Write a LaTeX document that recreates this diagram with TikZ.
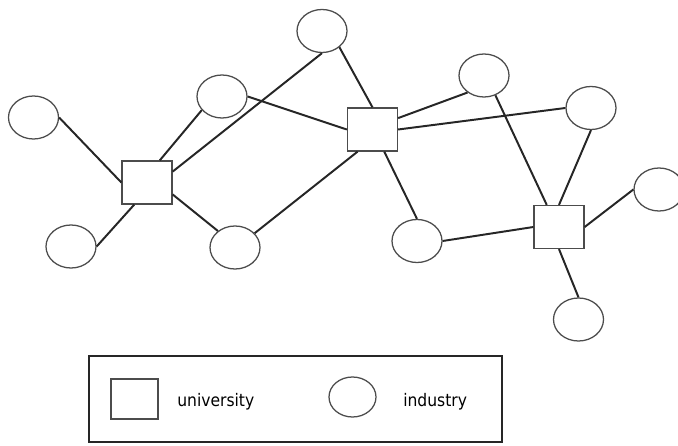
\documentclass[tikz,border=0pt]{standalone}
\usepackage{fontspec}
\setmainfont{DejaVu Sans Condensed}
\usepackage{tikz}
\usetikzlibrary{shapes.geometric}

\tikzset{
  univ/.style={draw=black!70, line width=0.9pt, rectangle, minimum width=1.25cm, minimum height=1.075cm, inner sep=0pt},
  ind/.style={draw=black!70, line width=0.9pt, ellipse, minimum width=1.25cm, minimum height=1.075cm, inner sep=0pt},
  link/.style={draw=black!85, line width=1.4pt},
}

\begin{document}
\begin{tikzpicture}[x=0.025cm, y=-0.025cm, font=\fontsize{12.3}{14}\selectfont]
\useasboundingbox (0,0) rectangle (678,446);

% universities
\node[univ] (u1) at (147,182.5) {};
\node[univ] (u2) at (372.5,129.5) {};
\node[univ] (u3) at (559,227) {};

% industries
\node[ind] (i1) at (33.5,117.5) {};
\node[ind] (i2) at (222,96.5) {};
\node[ind] (i3) at (322,31) {};
\node[ind] (i4) at (71,246.5) {};
\node[ind] (i5) at (235,247.5) {};
\node[ind] (i6) at (484,75.5) {};
\node[ind] (i7) at (591,108) {};
\node[ind] (i8) at (417,241) {};
\node[ind] (i9) at (659,189.5) {};
\node[ind] (i10) at (578.5,319.5) {};

\draw[link] (i1.east) -- (u1.west);
\draw[link] (i4.east) -- (u1.240);
\draw[link] (u1.60) -- (i2.214);
\draw[link] (u1.23) -- (i3.south);
\draw[link] (u1.-25) -- (i5.136);
\draw[link] (i2.east) -- (u2.west);
\draw[link] (i3.-43) -- (u2.north);
\draw[link] (i5.36) -- (u2.236);
\draw[link] (u2.24) -- (i6.226);
\draw[link] (u2.east) -- (i7.west);
\draw[link] (u2.-62) -- (i8.north);
\draw[link] (i8.east) -- (u3.west);
\draw[link] (i6.-60) -- (u3.119);
\draw[link] (i7.south) -- (u3.north);
\draw[link] (u3.east) -- (i9.west);
\draw[link] (u3.south) -- (i10.north);

% legend
\node[draw=black!85, line width=1.4pt, minimum width=10.325cm, minimum height=2.15cm, inner sep=0pt] (legend) at (295.5,399) {};
\node[univ, minimum width=1.175cm, minimum height=1cm] (lu) at (134.5,399) {};
\node[anchor=base west, inner sep=0pt] (lutext) at (177,406) {university};
\node[ind, minimum width=1.175cm, minimum height=1cm] (li) at (352.5,397) {};
\node[anchor=base west, inner sep=0pt] (litext) at (403,406) {industry};
\end{tikzpicture}
\end{document}
